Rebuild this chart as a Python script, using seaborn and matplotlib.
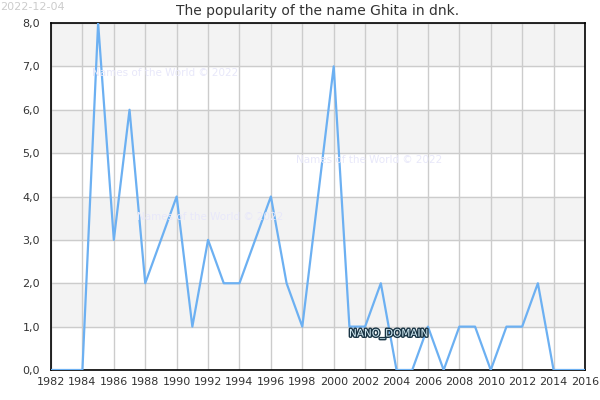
import pandas as pd
import matplotlib
matplotlib.use("Agg")
import matplotlib.pyplot as plt
import matplotlib.patheffects as pe
from matplotlib.ticker import FuncFormatter, MultipleLocator
import seaborn as sns

years = list(range(1982, 2017))
counts = [0, 0, 0, 8, 3, 6, 2, 3, 4, 1, 3, 2, 2, 3, 4, 2, 1, 4, 7, 1,
          1, 2, 0, 0, 1, 0, 1, 1, 0, 1, 1, 2, 0, 0, 0]
title = "The popularity of the name Ghita in dnk."
watermark = "Names of the World © 2022"
date_label = "2022-12-04"

df = pd.DataFrame({"year": years, "count": counts})

sns.set_style("white")
plt.rcParams["font.family"] = ["DejaVu Sans"]

fig = plt.figure(figsize=(6, 4), dpi=100)
ax = fig.add_axes([0.085, 0.075, 0.89, 0.8675])

# alternating bands
for lo in range(1, 8, 2):
    ax.axhspan(lo, lo + 1, color="#f3f3f3", zorder=0)

sns.lineplot(data=df, x="year", y="count", ax=ax, color="#6cb0f2",
             linewidth=1.6, zorder=3)

ax.set_xlim(1982, 2016)
ax.set_ylim(0, 8)
ax.xaxis.set_major_locator(MultipleLocator(2))
ax.yaxis.set_major_locator(MultipleLocator(1))
ax.yaxis.set_major_formatter(FuncFormatter(lambda v, p: f"{v:.1f}".replace(".", ",")))
ax.grid(True, color="#cccccc", linewidth=1, zorder=1)
ax.set_axisbelow(True)
ax.set_xlabel("")
ax.set_ylabel("")
ax.tick_params(axis="both", labelsize=8, colors="#333333", length=0)
ax.tick_params(axis="x", pad=5)
ax.tick_params(axis="y", pad=8)
for s in ax.spines.values():
    s.set_color("black")
    s.set_linewidth(1.2)

ax.set_title(title, fontsize=10, color="#333333", pad=6)
fig.text(0.0, 0.995, date_label, fontsize=8, color="#cccccc", va="top", ha="left")

for xp, yp in [(92, 73), (296, 160), (137, 217)]:
    fig.text(xp / 600, 1 - yp / 400, watermark, fontsize=7.5, color="#e8e8fa",
             va="center", ha="left", zorder=5)

t = fig.text(349 / 600, 1 - 334 / 400, "NANO_DOMAIN", fontsize=7.5,
             color="#d8f0f8", va="center", ha="left", zorder=6)
t.set_path_effects([pe.withStroke(linewidth=2, foreground="#1a3545")])

fig.savefig("out.png", dpi=100)
